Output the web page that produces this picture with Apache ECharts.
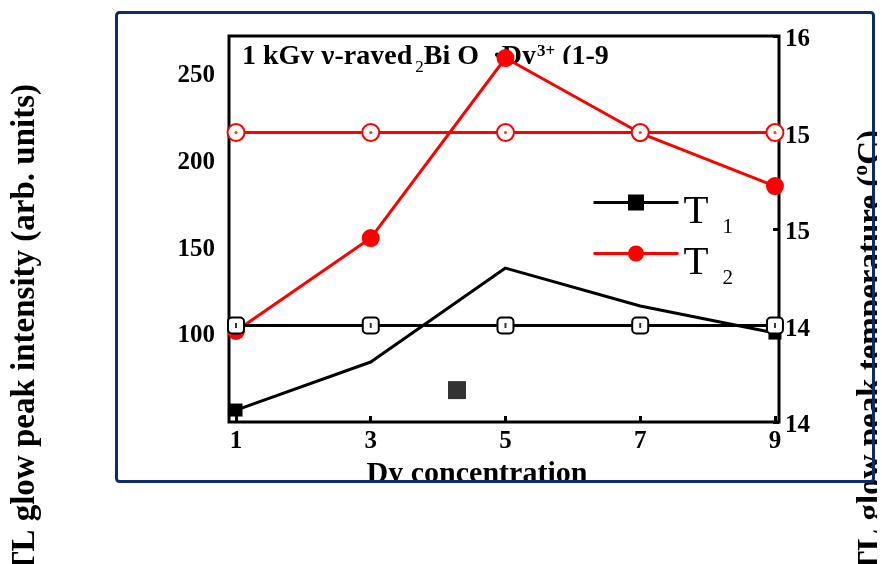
<!DOCTYPE html>
<html><head><meta charset="utf-8">
<script src="https://cdn.jsdelivr.net/npm/echarts@6/dist/echarts.min.js"></script>
<style>html,body{margin:0;padding:0;background:#fff}#c{width:882px;height:564px}</style>
</head><body><div id="c"></div>
<script>
// ---- data ----
const concentrations = [1, 3, 5, 7, 9];
const intensityT1 = [57.3, 85.0, 139.2, 117.3, 101.7];
const intensityT2 = [102.9, 156.5, 260.4, 217.1, 186.5];
const temperatureT1 = [14.5, 14.5, 14.5, 14.5, 14.5];
const temperatureT2 = [15.5, 15.5, 15.5, 15.5, 15.5];
const strayPointX = [4.28];
const strayPointY = [68.8];
const xTickValues = [1, 3, 5, 7, 9];
const leftTickValues = [100, 150, 200, 250];
const rightTickValues = [14, 14.5, 15, 15.5, 16];
const rightTickLabels = ['14', '14', '15', '15', '16'];
const legendNames = ['T1', 'T2'];

const SERIF = "'Liberation Serif','Times New Roman',serif";
const pairs = (xs, ys) => xs.map((x, i) => [x, ys[i]]);

const chart = echarts.init(document.getElementById('c'), null, {renderer: 'canvas'});
const option = {
  animation: false,
  backgroundColor: '#ffffff',
  grid: {left: 229, right: 103, top: 36, bottom: 142, show: true, borderColor: '#000', borderWidth: 3, backgroundColor: 'transparent'},
  xAxis: {
    type: 'value', min: 0.896, max: 9.06,
    name: 'Dy concentration', nameLocation: 'middle', nameGap: 37,
    nameTextStyle: {fontFamily: SERIF, fontWeight: 'bold', fontSize: 30, color: '#000', padding: [0, 54, 0, 0]},
    axisLine: {show: false},
    axisTick: {show: true, inside: true, length: 6, customValues: xTickValues, lineStyle: {color: '#000', width: 3}},
    axisLabel: {customValues: xTickValues, margin: 7, fontFamily: SERIF, fontWeight: 'bold', fontSize: 25, color: '#000'},
    splitLine: {show: false}
  },
  yAxis: [
    {
      type: 'value', min: 50.4, max: 273.1, position: 'left',
      axisLine: {show: false}, axisTick: {show: false},
      axisLabel: {customValues: leftTickValues, margin: 14, fontFamily: SERIF, fontWeight: 'bold', fontSize: 25, color: '#000'},
      splitLine: {show: false}
    },
    {
      type: 'value', min: 14, max: 16, position: 'right',
      axisLine: {show: false},
      axisTick: {show: true, inside: true, length: 6, customValues: rightTickValues, lineStyle: {color: '#000', width: 3}},
      axisLabel: {customValues: rightTickValues, margin: 6, color: '#000',
        formatter: v => '{a|' + rightTickLabels[rightTickValues.indexOf(v)] + '}',
        rich: {a: {fontFamily: SERIF, fontWeight: 'bold', fontSize: 25, lineHeight: 25, color: '#000', padding: [8, 0, 0, 0]}}},
      splitLine: {show: false}
    }
  ],
  legend: {
    data: legendNames, orient: 'vertical', left: 587, top: 177.5,
    itemWidth: 85, itemHeight: 20, itemGap: -4,
    lineStyle: {width: 3},
    formatter: n => '{t|T}{s|' + n.slice(1) + '}',
    textStyle: {
      padding: 0,
      rich: {
        t: {fontFamily: SERIF, fontSize: 41, lineHeight: 40, color: '#000', verticalAlign: 'top', padding: [9, 0, 0, 0]},
        s: {fontFamily: SERIF, fontSize: 21, lineHeight: 21, color: '#000', verticalAlign: 'top', padding: [34, 0, 0, 14]}
      }
    }
  },
  series: [
    {
      name: 'T1', type: 'line', yAxisIndex: 0,
      data: pairs(concentrations, intensityT1).map((p, i, a) => ({value: p, symbol: (i === 0 || i === a.length - 1) ? 'rect' : 'none'})),
      symbol: 'rect', symbolSize: 13, color: '#000',
      lineStyle: {color: '#000', width: 3}, itemStyle: {color: '#000'}, z: 2
    },
    {
      name: 'T2', type: 'line', yAxisIndex: 0,
      data: pairs(concentrations, intensityT2),
      symbol: 'circle', symbolSize: 18, color: '#ff0000',
      lineStyle: {color: '#ff0000', width: 3}, itemStyle: {color: '#ff0000'}, z: 3
    },
    {
      name: 'stray', type: 'scatter', yAxisIndex: 0,
      data: pairs(strayPointX, strayPointY),
      symbol: 'rect', symbolSize: 18, itemStyle: {color: '#000'}, z: 3
    },
    {
      name: 'T1 temperature', type: 'line', yAxisIndex: 1,
      data: pairs(concentrations, temperatureT1),
      symbol: 'emptyRoundRect', symbolSize: 16, color: '#000',
      lineStyle: {color: '#000', width: 3}, itemStyle: {color: '#000', borderWidth: 3}, z: 4
    },
    {
      name: 'T2 temperature', type: 'line', yAxisIndex: 1,
      data: pairs(concentrations, temperatureT2),
      symbol: 'emptyCircle', symbolSize: 17, color: '#ff0000',
      lineStyle: {color: '#ff0000', width: 3}, itemStyle: {color: '#ff0000', borderWidth: 2}, z: 4
    },
    {
      name: 'T1 temperature dot', type: 'scatter', yAxisIndex: 1,
      data: pairs(concentrations, temperatureT1),
      symbol: 'rect', symbolSize: [2, 5], itemStyle: {color: '#000'}, z: 5, silent: true
    },
    {
      name: 'T2 temperature dot', type: 'scatter', yAxisIndex: 1,
      data: pairs(concentrations, temperatureT2),
      symbol: 'circle', symbolSize: 3, itemStyle: {color: '#ff0000'}, z: 5, silent: true
    }
  ],
  graphic: [
    {
      type: 'text', x: 242, y: 43, z: 0, silent: true,
      style: {
        text: '{m|1 kGy γ-rayed}{s|2}{m|Bi O}{h|3}{m|·Dy}{p|3+}{m| (1-9}',
        rich: {
          m: {fontFamily: SERIF, fontWeight: 'bold', fontSize: 28, lineHeight: 28, fill: '#000', verticalAlign: 'top'},
          s: {fontFamily: SERIF, fontSize: 17, lineHeight: 16, fill: '#000', verticalAlign: 'top', padding: [16, 0, 0, 3]},
          h: {fontFamily: SERIF, fontSize: 17, lineHeight: 16, fill: '#000', verticalAlign: 'top', padding: [24, 3, 0, 2]},
          p: {fontFamily: SERIF, fontWeight: 'bold', fontSize: 17, lineHeight: 16, fill: '#000', verticalAlign: 'top', padding: [0, 0, 0, 1]}
        }
      }
    },
    {type: 'rect', z: 1, silent: true, shape: {x: 238, y: 64, width: 178, height: 26}, style: {fill: '#fff'}},
    {type: 'rect', z: 1, silent: true, shape: {x: 427, y: 64, width: 200, height: 26}, style: {fill: '#fff'}},
    {
      type: 'text', x: 25, y: 84, rotation: Math.PI / 2, silent: true,
      style: {text: 'TL glow peak intensity (arb. units)', font: "bold 33px 'Liberation Serif'", fill: '#000', align: 'right', verticalAlign: 'middle'}
    },
    {
      type: 'text', x: 871, y: 130, rotation: Math.PI / 2, silent: true,
      style: {text: 'TL glow peak temperature (ºC)', font: "bold 33px 'Liberation Serif'", fill: '#000', align: 'right', verticalAlign: 'middle'}
    },
    {type: 'rect', z: 50, silent: true, shape: {x: 877, y: 0, width: 5, height: 564}, style: {fill: '#fff'}},
    {type: 'rect', z: 50, silent: true, shape: {x: 330, y: 482, width: 320, height: 20}, style: {fill: '#fff'}},
    {type: 'rect', z: 100, silent: true, shape: {x: 116.5, y: 12.5, width: 757, height: 469, r: 3}, style: {fill: 'none', stroke: '#0d2b6b', lineWidth: 3}}
  ]
};
chart.setOption(option);
</script>
</body></html>
